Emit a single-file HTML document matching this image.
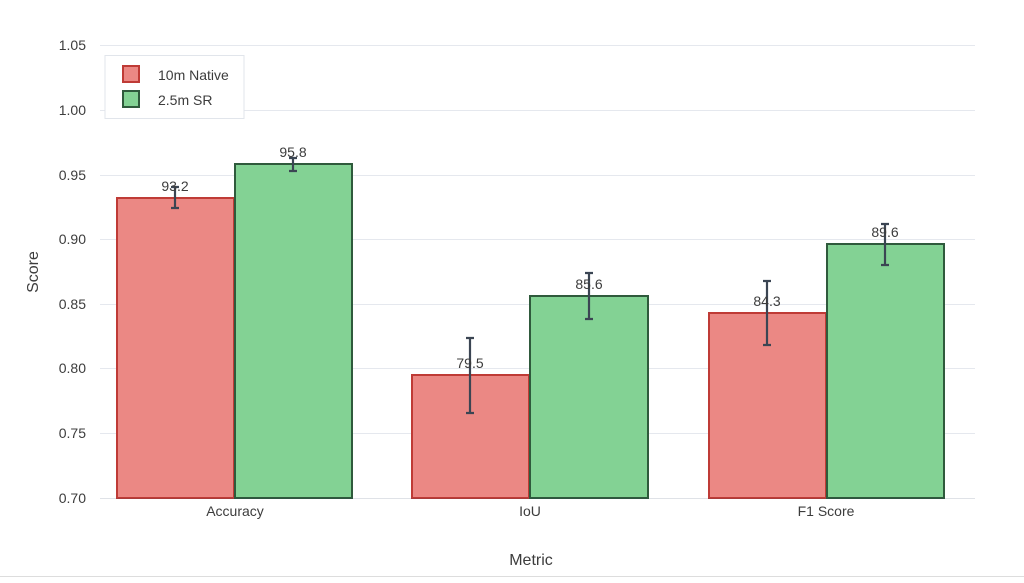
<!DOCTYPE html>
<html><head><meta charset="utf-8"><style>html,body{margin:0;padding:0;background:#fff}</style></head>
<body>
<svg width="1024" height="578" xmlns="http://www.w3.org/2000/svg" font-family="Liberation Sans, sans-serif">
<rect width="1024" height="578" fill="#fff"/>
<g stroke="#e5e8ee" stroke-width="1">
<line x1="100" x2="975" y1="45.5" y2="45.5"/>
<line x1="100" x2="975" y1="110.5" y2="110.5"/>
<line x1="100" x2="975" y1="175.5" y2="175.5"/>
<line x1="100" x2="975" y1="239.5" y2="239.5"/>
<line x1="100" x2="975" y1="304.5" y2="304.5"/>
<line x1="100" x2="975" y1="368.5" y2="368.5"/>
<line x1="100" x2="975" y1="433.5" y2="433.5"/>
</g>
<g font-size="14" fill="#3c3c3c" text-anchor="end">
<text x="86" y="50">1.05</text><text x="86" y="115">1.00</text><text x="86" y="180">0.95</text>
<text x="86" y="244">0.90</text><text x="86" y="309">0.85</text><text x="86" y="373">0.80</text>
<text x="86" y="438">0.75</text><text x="86" y="503">0.70</text>
</g>
<g stroke-width="2">
<rect x="117" y="198" width="117" height="300" fill="#eb8884" stroke="#bf3b36"/>
<rect x="235" y="164" width="117" height="334" fill="#83d294" stroke="#2f5a3c"/>
<rect x="412" y="375" width="117" height="123" fill="#eb8884" stroke="#bf3b36"/>
<rect x="530" y="296" width="118" height="202" fill="#83d294" stroke="#2f5a3c"/>
<rect x="709" y="313" width="117" height="185" fill="#eb8884" stroke="#bf3b36"/>
<rect x="827" y="244" width="117" height="254" fill="#83d294" stroke="#2f5a3c"/>
</g>
<line x1="100" x2="975" y1="498.5" y2="498.5" stroke="#2a3f5f" stroke-opacity="0.15"/>
<g stroke="#3b4553" stroke-width="2.2">
<path d="M175 208V187M171 208h8M171 187h8"/>
<path d="M293 171V158M289 171h8M289 158h8"/>
<path d="M470 413V338M466 413h8M466 338h8"/>
<path d="M589 319V273M585 319h8M585 273h8"/>
<path d="M767 345V281M763 345h8M763 281h8"/>
<path d="M885 265V224M881 265h8M881 224h8"/>
</g>
<g font-size="14" fill="#3c3c3c" text-anchor="middle">
<text x="175" y="191">93.2</text><text x="293" y="157">95.8</text>
<text x="470" y="368">79.5</text><text x="589" y="289">85.6</text>
<text x="767" y="306">84.3</text><text x="885" y="237">89.6</text>
<text x="235" y="516">Accuracy</text><text x="530" y="516">IoU</text><text x="826" y="516">F1 Score</text>
<text x="531" y="565" font-size="16">Metric</text>
<text transform="translate(38,272) rotate(-90)" font-size="16">Score</text>
</g>
<rect x="105" y="55.5" width="139" height="63" fill="#fff" stroke="#e1e5eb"/>
<rect x="123" y="66" width="16" height="16" fill="#eb8884" stroke="#bf3b36" stroke-width="2"/>
<rect x="123" y="91" width="16" height="16" fill="#83d294" stroke="#2f5a3c" stroke-width="2"/>
<text x="158" y="80" font-size="14" fill="#3c3c3c">10m Native</text>
<text x="158" y="105" font-size="14" fill="#3c3c3c">2.5m SR</text>
<line x1="0" x2="1024" y1="576.5" y2="576.5" stroke="#ddd"/>
</svg>
</body></html>
